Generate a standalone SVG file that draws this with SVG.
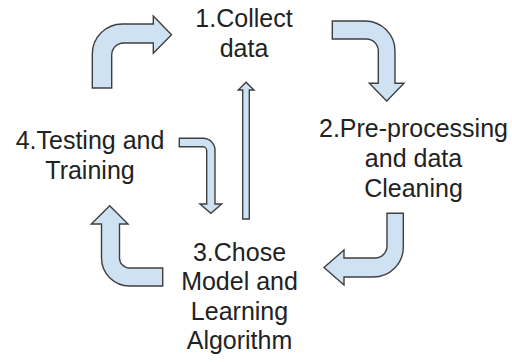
<svg xmlns="http://www.w3.org/2000/svg" width="512" height="362" viewBox="0 0 512 362">
  <style>
    .arrow { fill: #cfe2f3; stroke: #3f3f3f; stroke-width: 1.4; stroke-linejoin: miter; }
    .label { font-family: "Liberation Sans", Arial, sans-serif; font-size: 25px; fill: #222; text-anchor: middle; }
  </style>
  <rect width="512" height="362" fill="#ffffff"/>

  <!-- Process steps -->
  <g id="step1">
    <text class="label" x="244" y="27.3">1.Collect</text>
    <text class="label" x="244" y="57.3">data</text>
  </g>
  <g id="step2">
    <text class="label" x="413.5" y="137.3">2.Pre-processing</text>
    <text class="label" x="413.5" y="167.3">and data</text>
    <text class="label" x="413.5" y="197.3">Cleaning</text>
  </g>
  <g id="step3">
    <text class="label" x="239.5" y="260.5">3.Chose</text>
    <text class="label" x="239.5" y="290">Model and</text>
    <text class="label" x="239.5" y="319.5">Learning</text>
    <text class="label" x="239.5" y="349">Algorithm</text>
  </g>
  <g id="step4">
    <text class="label" x="90" y="149.3">4.Testing and</text>
    <text class="label" x="90" y="179.3">Training</text>
  </g>

  <!-- Bent block arrows linking the steps -->
  <g id="connectors">
    <!-- 4 -> 1 -->
    <path class="arrow" d="M92.3,88 L92.3,54 A30,30 0 0 1 122.3,24 L153.3,24 L153.3,16 L171.5,34.7 L153.3,53.3 L153.3,43 L123.7,43 A12,12 0 0 0 111.7,55 L111.7,88 Z"/>
    <!-- 1 -> 2 -->
    <path class="arrow" d="M332.3,21 L365,21 A30,30 0 0 1 395,51 L395,83.3 L404,83.3 L386.7,101 L369.3,83.3 L378.3,83.3 L378.3,51 A12,12 0 0 0 366.3,39 L332.3,39 Z"/>
    <!-- 2 -> 3 -->
    <path class="arrow" d="M403.3,213.3 L403.3,247 A30,30 0 0 1 373.3,277 L344,277 L344,285 L324,267.5 L344,250 L344,258 L375,258 A12,12 0 0 0 387,246 L387,213.3 Z"/>
    <!-- 3 -> 4 -->
    <path class="arrow" d="M162.7,286 L129.5,286 A28,28 0 0 1 101.5,258 L101.5,224 L91.3,224 L109.7,205.7 L128,224 L119.5,224 L119.5,258 A10,10 0 0 0 129.5,268 L162.7,268 Z"/>
    <!-- 4 -> 3 (small) -->
    <path class="arrow" d="M179.3,138.3 L203,138.3 A12,12 0 0 1 215,150.3 L215,204 L221.7,204 L210.8,213.3 L200,204 L206.7,204 L206.7,150.7 A4,4 0 0 0 202.7,146.7 L179.3,146.7 Z"/>
    <!-- 3 -> 1 (straight) -->
    <path class="arrow" d="M242.7,219 L242.7,90 L238.3,90 L246,82.3 L254,90 L249.3,90 L249.3,219 Z"/>
  </g>
</svg>
